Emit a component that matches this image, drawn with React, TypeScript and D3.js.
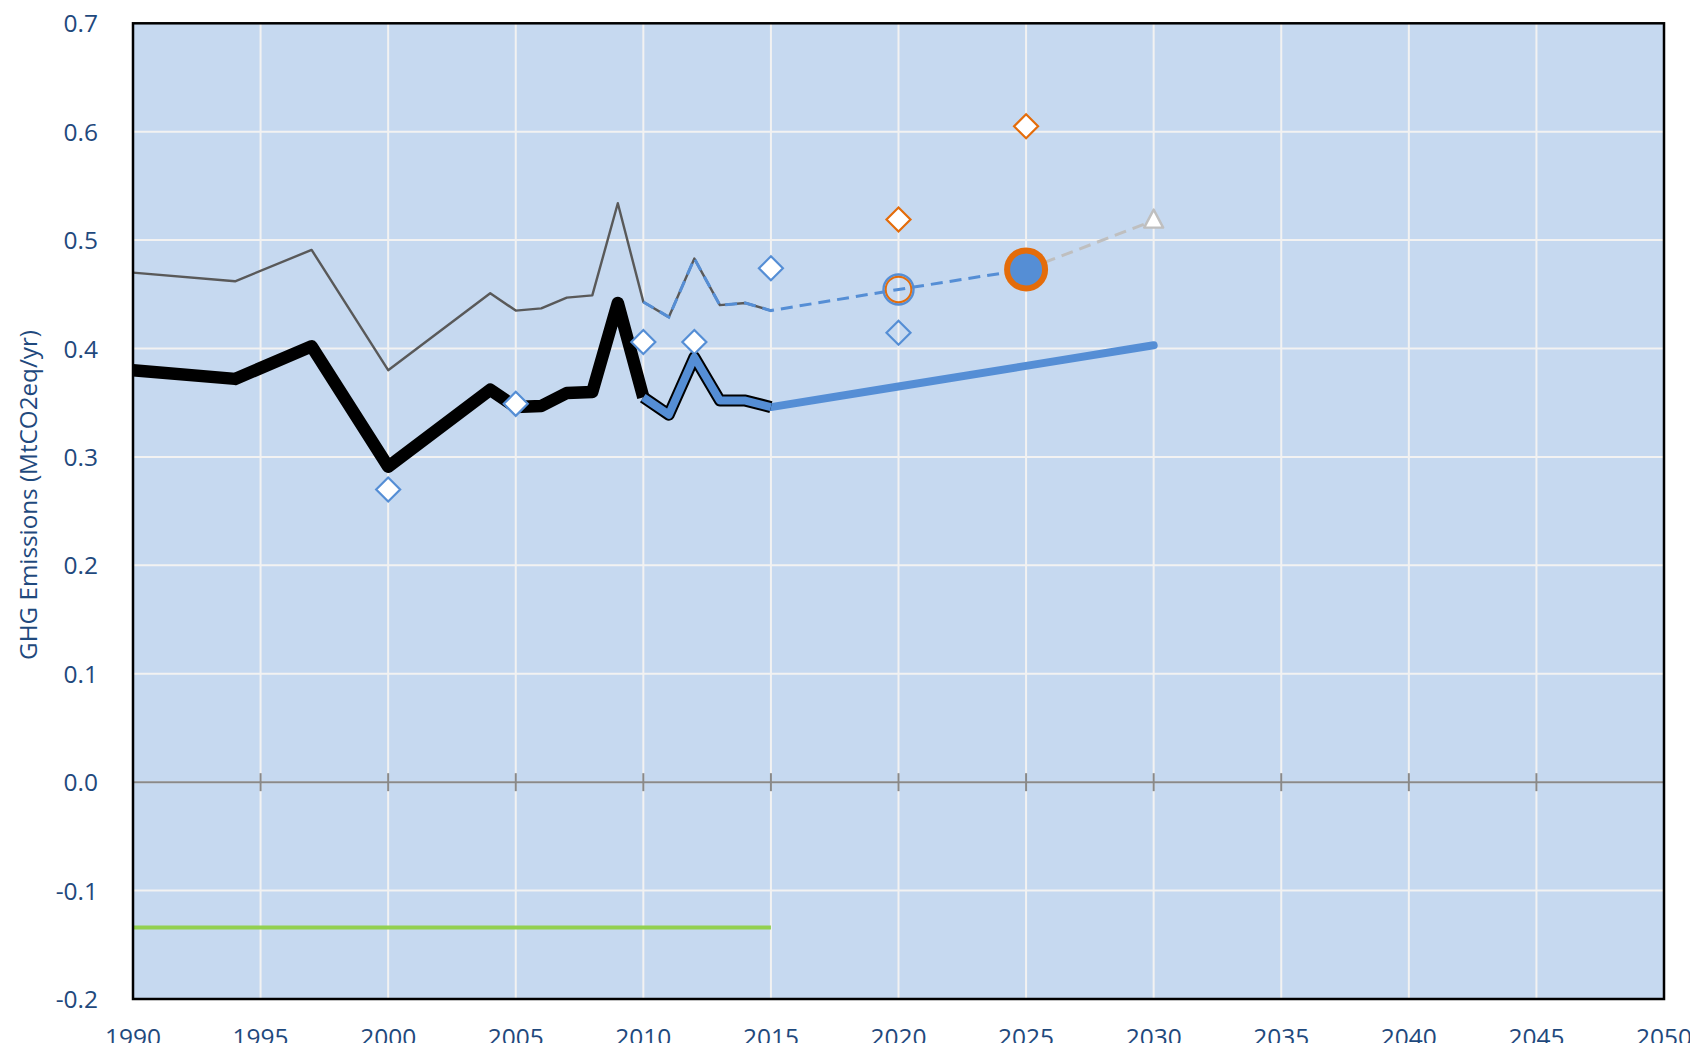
import React from "react";
import * as d3 from "d3";

// ---- data ----
const histYears = [1990, 1994, 1997, 2000, 2004, 2005, 2006, 2007, 2008, 2009, 2010];
const histNet = [0.380, 0.372, 0.402, 0.291, 0.362, 0.346, 0.347, 0.359, 0.360, 0.442, 0.355];

const grossYears = [1990, 1994, 1997, 2000, 2004, 2005, 2006, 2007, 2008, 2009, 2010, 2011, 2012, 2013, 2014, 2015];
const grossVals = [0.470, 0.462, 0.491, 0.380, 0.451, 0.435, 0.437, 0.447, 0.449, 0.534, 0.443, 0.429, 0.483, 0.440, 0.442, 0.435];

const recentYears = [2010, 2011, 2012, 2013, 2014, 2015];
const recentNet = [0.355, 0.339, 0.392, 0.352, 0.352, 0.346];

const projYears = [2015, 2020, 2025, 2030];
const projNet = [0.346, 0.365, 0.384, 0.403];

const dashedYears = [2010, 2011, 2012, 2013, 2014, 2015, 2020, 2025];
const dashedVals = [0.443, 0.429, 0.483, 0.440, 0.442, 0.435, 0.4545, 0.473];

const greyDashYears = [2025, 2030];
const greyDashVals = [0.473, 0.518];

const blueDiamondYears = [2000, 2005, 2010, 2012, 2015];
const blueDiamondVals = [0.270, 0.349, 0.406, 0.406, 0.474];

const hollowDiamondYears = [2020];
const hollowDiamondVals = [0.4145];

const orangeDiamondYears = [2020, 2025];
const orangeDiamondVals = [0.519, 0.605];

const ringYears = [2020];
const ringVals = [0.4545];

const bigDotYears = [2025];
const bigDotVals = [0.473];

const triangleYears = [2030];
const triangleVals = [0.518];

const sinkYears = [1990, 2015];
const sinkVals = [-0.134, -0.134];

const xTicks = [1990, 1995, 2000, 2005, 2010, 2015, 2020, 2025, 2030, 2035, 2040, 2045, 2050];
const yTicks = [-0.2, -0.1, 0.0, 0.1, 0.2, 0.3, 0.4, 0.5, 0.6, 0.7];

const W = 1690, H = 1043;
const L = 133, R = 1664, T = 23.3, B = 999;

const x = d3.scaleLinear().domain([1990, 2050]).range([L, R]);
const y = d3.scaleLinear().domain([-0.2, 0.7]).range([B, T]);

const BLUE = "#558ED5";
const ORANGE = "#E46C0A";
const TEXT = "#1F497D";
const FONT = "'Open Sans', 'Noto Sans', sans-serif";

function pts(xs: number[], ys: number[]): [number, number][] {
  return xs.map((d, i) => [d, ys[i]]);
}
const line = d3.line<[number, number]>().x(d => x(d[0])).y(d => y(d[1]));

const fmt = (v: number) => {
  const s = Math.abs(v).toFixed(1);
  return (v < -1e-9 ? "-" : "") + s;
};

function Diamond({ cx, cy, r, stroke, fill }: { cx: number; cy: number; r: number; stroke: string; fill: string }) {
  const d = `M${cx},${cy - r}L${cx + r},${cy}L${cx},${cy + r}L${cx - r},${cy}Z`;
  return <path d={d} fill={fill} stroke={stroke} strokeWidth={2.2} />;
}

export default function App() {
  return (
    <svg width={W} height={H} style={{ position: "fixed", left: 0, top: 0, background: "#fff" }}>
      <rect x={L} y={T} width={R - L} height={B - T} fill="#C6D9F0" />
      {/* grid */}
      {xTicks.slice(1, -1).map(t => (
        <line key={"gx" + t} x1={x(t)} x2={x(t)} y1={T} y2={B} stroke="#F2F2F2" strokeWidth={2} />
      ))}
      {yTicks.slice(1, -1).map(t => (
        <line key={"gy" + t} x1={L} x2={R} y1={y(t)} y2={y(t)} stroke="#F2F2F2" strokeWidth={2} />
      ))}
      {/* zero axis with ticks */}
      <line x1={L} x2={R} y1={y(0)} y2={y(0)} stroke="#898989" strokeWidth={2} />
      {xTicks.map(t => (
        <line key={"tk" + t} x1={x(t)} x2={x(t)} y1={y(0) - 9} y2={y(0) + 9} stroke="#898989" strokeWidth={2} />
      ))}
      {/* sink line */}
      <path d={line(pts(sinkYears, sinkVals)) || ""} fill="none" stroke="#92D050" strokeWidth={4} />
      {/* gross thin line */}
      <path d={line(pts(grossYears, grossVals)) || ""} fill="none" stroke="#595959" strokeWidth={2.4} strokeLinejoin="round" />
      {/* dashed blue */}
      <path d={line(pts(dashedYears, dashedVals)) || ""} fill="none" stroke={BLUE} strokeWidth={3} strokeDasharray="12,7" />
      {/* grey dashed */}
      <path d={line(pts(greyDashYears, greyDashVals)) || ""} fill="none" stroke="#BFBFBF" strokeWidth={3} strokeDasharray="12,7" />
      {/* historic net black */}
      <path d={line(pts(histYears, histNet)) || ""} fill="none" stroke="#000" strokeWidth={12.5} strokeLinejoin="round" />
      {/* projection */}
      <path d={line(pts(projYears, projNet)) || ""} fill="none" stroke={BLUE} strokeWidth={8} strokeLinecap="round" />
      {/* recent outlined blue */}
      <path d={line(pts(recentYears, recentNet)) || ""} fill="none" stroke="#000" strokeWidth={12} strokeLinejoin="round" />
      <path d={line(pts(recentYears, recentNet)) || ""} fill="none" stroke={BLUE} strokeWidth={8} strokeLinejoin="round" />
      {/* markers */}
      {blueDiamondYears.map((yr, i) => (
        <Diamond key={"bd" + i} cx={x(yr)} cy={y(blueDiamondVals[i])} r={12} stroke={BLUE} fill="#fff" />
      ))}
      {hollowDiamondYears.map((yr, i) => (
        <Diamond key={"hd" + i} cx={x(yr)} cy={y(hollowDiamondVals[i])} r={12} stroke={BLUE} fill="none" />
      ))}
      {orangeDiamondYears.map((yr, i) => (
        <Diamond key={"od" + i} cx={x(yr)} cy={y(orangeDiamondVals[i])} r={12} stroke={ORANGE} fill="#fff" />
      ))}
      {ringYears.map((yr, i) => (
        <g key={"rg" + i}>
          <circle cx={x(yr)} cy={y(ringVals[i])} r={15} fill="none" stroke={BLUE} strokeWidth={2.4} />
          <circle cx={x(yr)} cy={y(ringVals[i])} r={12.8} fill="none" stroke={ORANGE} strokeWidth={2} />
        </g>
      ))}
      {bigDotYears.map((yr, i) => (
        <circle key={"bg" + i} cx={x(yr)} cy={y(bigDotVals[i])} r={19} fill={BLUE} stroke={ORANGE} strokeWidth={6} />
      ))}
      {triangleYears.map((yr, i) => {
        const cx = x(yr), cy = y(triangleVals[i]);
        return (
          <path key={"tr" + i} d={`M${cx},${cy - 11}L${cx + 9.5},${cy + 7}L${cx - 9.5},${cy + 7}Z`} fill="#fff" stroke="#BFBFBF" strokeWidth={2.4} strokeLinejoin="round" />
        );
      })}
      {/* frame */}
      <rect x={L} y={T} width={R - L} height={B - T} fill="none" stroke="#000" strokeWidth={2.5} />
      {/* y tick labels */}
      {yTicks.map(t => (
        <text key={"yl" + t} x={98} y={y(t) + 9} textAnchor="end" fontFamily={FONT} fontSize={24.5} fill={TEXT}>
          {fmt(t)}
        </text>
      ))}
      {/* x tick labels */}
      {xTicks.map(t => (
        <text key={"xl" + t} x={x(t)} y={1046} textAnchor="middle" fontFamily={FONT} fontSize={24.5} fill={TEXT}>
          {t}
        </text>
      ))}
      {/* y axis title */}
      <text
        transform={`translate(37,${495}) rotate(-90)`}
        textAnchor="middle"
        fontFamily={FONT}
        fontSize={23}
        fill={TEXT}
        textLength={330}
        lengthAdjust="spacingAndGlyphs"
      >
        GHG Emissions (MtCO2eq/yr)
      </text>
    </svg>
  );
}
